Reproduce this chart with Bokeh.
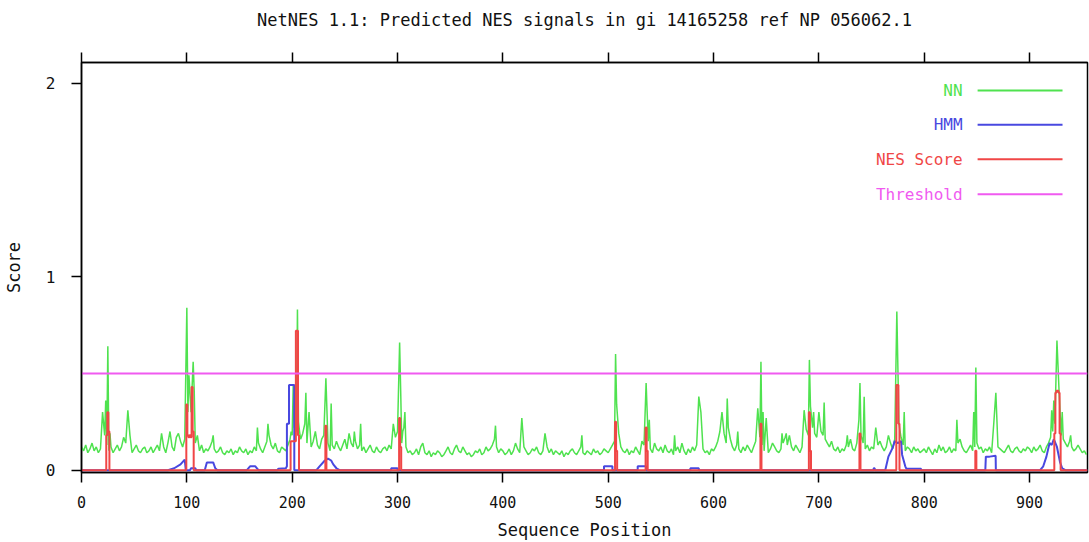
import numpy as np
from bokeh.plotting import figure
from bokeh.models import LinearAxis, FixedTicker, Range1d, CustomJSTickFormatter
from bokeh.core.properties import value
from bokeh.embed import file_html
from bokeh.resources import INLINE

# ---------------- data ----------------
TITLE = "NetNES 1.1: Predicted NES signals in gi 14165258 ref NP 056062.1"
SEQ_LEN = 955
X_TICKS = [0, 100, 200, 300, 400, 500, 600, 700, 800, 900]
Y_TICKS = [0, 1, 2]
THRESHOLD = 0.5

# NN score baseline, one value every 2 residues, in hundredths, per 100-residue block
nn_block_starts = [0, 100, 200, 300, 400, 500, 600, 700, 800, 900]
nn_block_0 = [12, 10, 13, 9, 11, 14, 10, 12, 9, 11, 15, 18, 13, 10, 12, 9, 11, 13, 10, 12,
              17, 14, 12, 10, 9, 11, 13, 10, 9, 11, 12, 9, 10, 12, 9, 11, 13, 10, 16, 12,
              9, 14, 18, 12, 10, 17, 13, 15, 12, 16]
nn_block_100 = [20, 24, 28, 18, 14, 12, 10, 13, 9, 11, 10, 12, 15, 11, 9, 10, 12, 9, 8, 10,
                9, 11, 8, 10, 9, 12, 10, 9, 11, 8, 10, 9, 12, 10, 14, 11, 9, 12, 15, 18,
                13, 11, 14, 10, 9, 12, 11, 10, 13, 16]
nn_block_200 = [18, 22, 20, 25, 16, 19, 24, 14, 17, 12, 15, 20, 13, 11, 16, 18, 12, 14, 10, 13,
                11, 15, 12, 10, 13, 16, 11, 18, 14, 12, 15, 11, 13, 10, 12, 9, 11, 13, 10, 9,
                12, 10, 9, 11, 12, 10, 13, 11, 15, 17]
nn_block_300 = [20, 18, 14, 22, 12, 9, 10, 8, 9, 11, 8, 12, 14, 9, 8, 10, 7, 9, 8, 10,
                9, 7, 8, 10, 12, 9, 8, 11, 13, 10, 9, 12, 10, 8, 9, 7, 8, 10, 9, 11,
                8, 9, 12, 10, 11, 13, 16, 12, 9, 11]
nn_block_400 = [10, 8, 9, 11, 8, 10, 14, 11, 9, 15, 12, 10, 8, 9, 11, 10, 12, 9, 8, 10,
                14, 12, 9, 11, 8, 10, 9, 8, 10, 7, 9, 8, 10, 11, 9, 8, 10, 12, 9, 8,
                10, 9, 8, 11, 9, 10, 8, 9, 11, 10]
nn_block_500 = [9, 11, 13, 15, 20, 16, 12, 10, 9, 11, 8, 10, 9, 12, 10, 8, 11, 13, 12, 15,
                11, 9, 14, 11, 10, 12, 9, 13, 10, 9, 11, 8, 10, 12, 9, 14, 10, 8, 11, 9,
                12, 10, 13, 20, 16, 11, 9, 10, 8, 11]
nn_block_600 = [10, 12, 15, 20, 26, 19, 14, 22, 16, 12, 10, 13, 11, 9, 12, 10, 13, 11, 9, 12,
                15, 11, 17, 13, 10, 12, 9, 11, 14, 12, 10, 9, 11, 14, 17, 13, 18, 12, 10, 13,
                11, 9, 12, 14, 21, 18, 16, 22, 19, 17]
nn_block_700 = [24, 20, 18, 16, 14, 12, 15, 11, 10, 12, 9, 11, 10, 13, 12, 16, 11, 10, 14, 12,
                18, 14, 11, 13, 10, 12, 11, 9, 13, 15, 12, 10, 12, 18, 14, 11, 16, 13, 22, 17,
                13, 10, 12, 11, 9, 12, 10, 11, 9, 10]
nn_block_800 = [11, 9, 12, 10, 8, 11, 9, 13, 10, 12, 9, 10, 12, 9, 11, 10, 14, 16, 12, 10,
                9, 11, 13, 10, 12, 14, 11, 12, 9, 11, 10, 12, 9, 13, 14, 12, 11, 10, 9, 11,
                13, 10, 9, 11, 12, 10, 9, 11, 10, 12]
nn_block_900 = [11, 9, 12, 10, 11, 13, 10, 9, 12, 14, 17, 20, 24, 26, 22, 18, 16, 14, 12, 15,
                12, 10, 11, 13, 11, 9, 10, 8]

# NN spikes (residue, score)
nn_spike_pos = [20, 23, 25, 27, 44, 46, 76, 84, 92, 100, 101, 102, 104, 106, 107, 110, 125,
                167, 177, 199, 201, 205, 207, 213, 216, 232, 237, 254, 259, 265, 296, 302,
                303, 305, 307, 393, 418, 440, 475, 507, 508, 510, 532, 536, 539, 563, 586,
                588, 608, 613, 623, 642, 645, 647, 650, 665, 669, 686, 691, 692, 695, 700,
                705, 727, 738, 739, 743, 754, 774, 776, 781, 831, 847, 849, 866, 868, 921,
                923, 926, 928, 931, 939]
nn_spike_val = [0.30, 0.36, 0.64, 0.19, 0.31, 0.18, 0.19, 0.20, 0.19, 0.84, 0.30, 0.49, 0.30,
                0.56, 0.41, 0.18, 0.18, 0.22, 0.24, 0.20, 0.44, 0.83, 0.20, 0.40, 0.30, 0.475,
                0.345, 0.19, 0.20, 0.24, 0.24, 0.66, 0.41, 0.20, 0.30, 0.23, 0.27, 0.19, 0.18,
                0.60, 0.34, 0.19, 0.15, 0.45, 0.26, 0.18, 0.38, 0.30, 0.30, 0.37, 0.20, 0.32,
                0.56, 0.30, 0.27, 0.19, 0.19, 0.31, 0.57, 0.33, 0.30, 0.30, 0.35, 0.18, 0.26,
                0.45, 0.38, 0.22, 0.82, 0.24, 0.30, 0.26, 0.30, 0.53, 0.24, 0.40, 0.31, 0.36,
                0.67, 0.41, 0.30, 0.18]

# NES score (zero except at these residues)
nes_pos = [24, 25, 26, 100, 101, 102, 103, 104, 105, 106, 199, 200, 201, 202, 203, 204, 205,
           206, 232, 302, 303, 507, 508, 536, 537, 645, 691, 692, 739, 774, 775, 776, 849,
           924, 925, 926, 927, 928, 929]
nes_val = [0.18, 0.30, 0.20, 0.34, 0.18, 0.17, 0.18, 0.17, 0.43, 0.20, 0.15, 0.15, 0.15, 0.15,
           0.15, 0.72, 0.72, 0.18, 0.23, 0.27, 0.12, 0.25, 0.10, 0.22, 0.10, 0.24, 0.30, 0.10,
           0.19, 0.44, 0.44, 0.24, 0.10, 0.19, 0.40, 0.41, 0.41, 0.40, 0.19]

# HMM score breakpoints
hmm_pos = [0, 82, 88, 94, 98, 99, 103, 104, 108, 109, 117, 119, 125, 127, 129, 157, 160, 165,
           168, 186, 187, 194, 195, 195, 197, 197, 202, 202, 223, 226, 231, 234, 237, 239, 242,
           245, 294, 294, 300, 300, 496, 496, 504, 504, 528, 528, 536, 536, 578, 578, 586, 586,
           752, 752, 753, 753, 763, 766, 770, 772, 775, 778, 779, 782, 783, 797, 797, 858, 858.5,
           862, 867.8, 868, 910, 913, 916, 919, 921, 923, 926, 929, 931, 934, 955]
hmm_val = [0, 0, 0.01, 0.03, 0.055, 0, 0, 0.01, 0.01, 0, 0, 0.04, 0.04, 0.01, 0, 0, 0.02, 0.02,
           0, 0, 0.008, 0.01, 0.02, 0.24, 0.24, 0.44, 0.44, 0, 0, 0.02, 0.05, 0.06, 0.05, 0.03,
           0.01, 0, 0, 0.01, 0.01, 0, 0, 0.02, 0.02, 0, 0, 0.02, 0.02, 0, 0, 0.01, 0.01, 0,
           0, 0.01, 0.01, 0, 0, 0.07, 0.115, 0.15, 0.14, 0.15, 0.08, 0.02, 0.008, 0.008, 0, 0,
           0.07, 0.07, 0.075, 0, 0, 0.02, 0.07, 0.14, 0.13, 0.16, 0.12, 0.04, 0.01, 0, 0]

legend_labels = ["NN", "HMM", "NES Score", "Threshold"]

# ---------------- styles ----------------
GREEN = "#4fe24f"
BLUE = "#4848e0"
RED = "#f04646"
MAGENTA = "#f05af0"
FONT = "DejaVu Sans Mono"

W, H = 1089, 542
FL, FR, FT, FB = 80, 1087, 62, 473
X0, X1 = 0, SEQ_LEN
Y0, Y1 = -0.012, 2.107

p = figure(width=W, height=H, output_backend="svg", toolbar_location=None, title=None,
           x_range=Range1d(X0, X1), y_range=Range1d(Y0, Y1),
           min_border_left=FL, min_border_right=W - FR, min_border_top=FT,
           min_border_bottom=H - FB, x_axis_location=None, y_axis_location=None)
p.grid.visible = False
p.outline_line_color = "black"
p.outline_line_width = 1.5
p.background_fill_color = "white"
p.border_fill_color = "white"


def xd(px):
    return X0 + (px - FL) / (FR - FL) * (X1 - X0)


def yd(py):
    return Y1 - (py - FT) / (FB - FT) * (Y1 - Y0)


def style_axis(ax):
    ax.major_tick_out = 10
    ax.major_tick_in = 0
    ax.minor_tick_line_color = None
    ax.axis_line_color = "black"
    ax.axis_line_width = 1.5
    ax.major_tick_line_width = 1.5
    ax.major_tick_line_color = "black"
    ax.major_label_text_font = FONT
    ax.major_label_text_font_size = "16px"
    ax.major_label_text_color = "#111111"
    ax.axis_label_text_font = FONT
    ax.axis_label_text_font_size = "17px"
    ax.axis_label_text_font_style = "normal"
    ax.axis_label_text_color = "#111111"


xb = LinearAxis(ticker=FixedTicker(ticks=X_TICKS), axis_label="Sequence Position")
style_axis(xb)
xb.major_label_text_font_size = "15px"
xb.major_label_standoff = 13
xb.axis_label_standoff = 9
p.add_layout(xb, "below")

# top axis: ticks only, its label carries the chart title
xt = LinearAxis(ticker=FixedTicker(ticks=X_TICKS), axis_label=TITLE,
                formatter=CustomJSTickFormatter(code="return ''"))
style_axis(xt)
xt.major_label_text_font_size = "0px"
xt.major_label_standoff = 0
xt.axis_label_standoff = 23
p.add_layout(xt, "above")

yl = LinearAxis(ticker=FixedTicker(ticks=Y_TICKS), axis_label="Score")
style_axis(yl)
yl.major_label_standoff = 16
yl.axis_label_standoff = 19
yl.major_label_orientation = "horizontal"
p.add_layout(yl, "left")

# ---------------- series ----------------
blocks = [nn_block_0, nn_block_100, nn_block_200, nn_block_300, nn_block_400,
          nn_block_500, nn_block_600, nn_block_700, nn_block_800, nn_block_900]
nn = {}
for start, block in zip(nn_block_starts, blocks):
    for i, v in enumerate(block):
        nn[start + 2 * i] = v / 100.0
for pos, v in zip(nn_spike_pos, nn_spike_val):
    nn[pos] = v
nn_x = sorted(nn)
nn_y = [nn[k] for k in nn_x]
p.line(nn_x, nn_y, line_color=GREEN, line_width=1.5)

p.line(hmm_pos, hmm_val, line_color=BLUE, line_width=2)

nes = np.zeros(SEQ_LEN + 1)
for pos, v in zip(nes_pos, nes_val):
    nes[pos] = v
p.step(np.arange(SEQ_LEN + 1), nes, mode="center", line_color=RED, line_width=2)

p.line([X0, X1], [THRESHOLD, THRESHOLD], line_color=MAGENTA, line_width=2)

# ---------------- legend (label left, line right) ----------------
leg_colors = [GREEN, BLUE, RED, MAGENTA]
leg_rows_px = [90, 124.5, 159, 194]
for lab, col, ry in zip(legend_labels, leg_colors, leg_rows_px):
    p.text(x=[xd(962)], y=[yd(ry)], text=[lab], text_align="right", text_baseline="middle",
           text_color=col, text_font=value(FONT), text_font_size="16px")
    p.segment(x0=[xd(977)], y0=[yd(ry)], x1=[xd(1062)], y1=[yd(ry)], line_color=col,
              line_width=2)

open("out.html", "w").write(file_html(p, INLINE))
